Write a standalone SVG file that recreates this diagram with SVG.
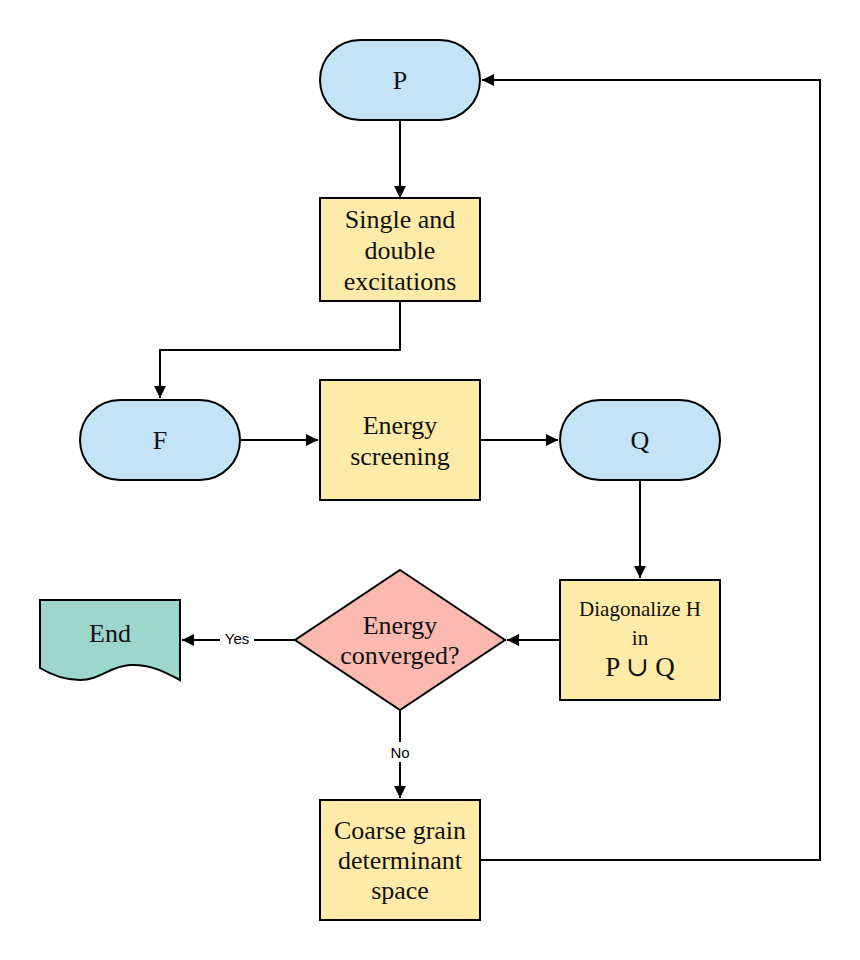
<svg xmlns="http://www.w3.org/2000/svg" width="860" height="960" viewBox="0 0 860 960">
<defs>
<marker id="ah" markerUnits="userSpaceOnUse" markerWidth="14" markerHeight="12" refX="12" refY="6" orient="auto">
<path d="M0,0 L12,6 L0,12 Z" fill="#000"/>
</marker>
<style>
.n{stroke:#000;stroke-width:2}
.blue{fill:#c2e4f6}
.yel{fill:#ffeba8}
.pink{fill:#fbb9b0}
.teal{fill:#9dd6cc}
.t{font-family:"Liberation Serif","DejaVu Serif",serif;font-size:26px;fill:#111;text-anchor:middle;dominant-baseline:central}
.c{fill:none;stroke:#000;stroke-width:2;marker-end:url(#ah)}
.l{font-family:"Liberation Sans",Arial,sans-serif;font-size:15px;fill:#000;text-anchor:middle;dominant-baseline:central}
</style>
</defs>
<rect width="860" height="960" fill="#fff"/>
<g id="connectors">
<path class="c" d="M400,120 V198"/>
<path class="c" d="M400,301 V350 H160 V398"/>
<path class="c" d="M240,440 H318"/>
<path class="c" d="M480,440 H558"/>
<path class="c" d="M640,480 V578"/>
<path class="c" d="M560,640 H507"/>
<path class="c" d="M295,640 H182"/>
<path class="c" d="M400,710 V798"/>
<path class="c" d="M480,860 H820 V80 H482"/>
<rect x="220" y="629" width="34" height="20" fill="#fff"/>
<text class="l" x="237" y="638">Yes</text>
<rect x="386" y="742" width="28" height="20" fill="#fff"/>
<text class="l" x="400" y="752">No</text>
</g>
<g id="P">
<rect class="n blue" x="320" y="40" width="160" height="80" rx="40"/>
<text class="t" x="400" y="80">P</text>
</g>
<g id="excitations">
<rect class="n yel" x="320" y="198" width="160" height="103"/>
<text class="t" x="400" y="219">Single and</text>
<text class="t" x="400" y="250">double</text>
<text class="t" x="400" y="281">excitations</text>
</g>
<g id="F">
<rect class="n blue" x="80" y="400" width="160" height="80" rx="40"/>
<text class="t" x="160" y="440">F</text>
</g>
<g id="screening">
<rect class="n yel" x="320" y="380" width="160" height="120"/>
<text class="t" x="400" y="425">Energy</text>
<text class="t" x="400" y="456">screening</text>
</g>
<g id="Q">
<rect class="n blue" x="560" y="400" width="160" height="80" rx="40"/>
<text class="t" x="640" y="440">Q</text>
</g>
<g id="diagonalize">
<rect class="n yel" x="560" y="580" width="160" height="120"/>
<text class="t" x="640" y="609" style="font-size:21px">Diagonalize H</text>
<text class="t" x="640" y="638" style="font-size:21px">in</text>
<text class="t" x="640" y="667" style="font-size:27px">P ∪ Q</text>
</g>
<g id="converged">
<path class="n pink" d="M400,570 L505,640 L400,710 L295,640 Z"/>
<text class="t" x="400" y="625">Energy</text>
<text class="t" x="400" y="655">converged?</text>
</g>
<g id="End">
<path class="n teal" d="M40,600 H180 V680 C165,672 150,664 130,665 C110,666 100,680 80,680 C62,680 50,674 40,668 Z"/>
<text class="t" x="110" y="633">End</text>
</g>
<g id="coarse">
<rect class="n yel" x="320" y="800" width="160" height="120"/>
<text class="t" x="400" y="830">Coarse grain</text>
<text class="t" x="400" y="860">determinant</text>
<text class="t" x="400" y="890">space</text>
</g>
</svg>
